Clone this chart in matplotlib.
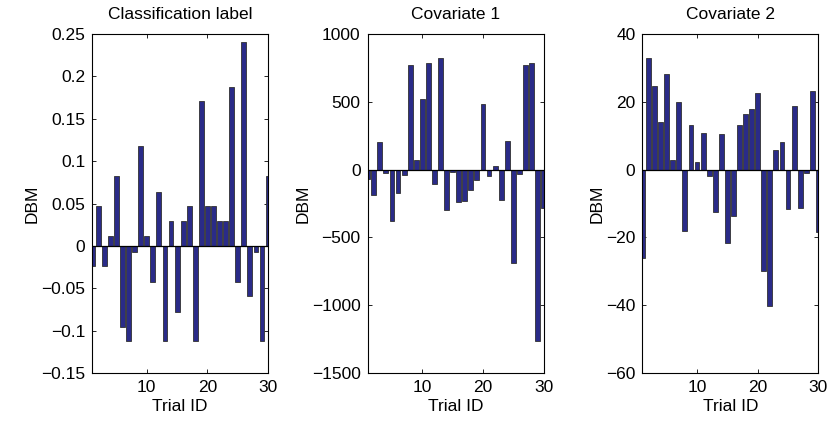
import numpy as np
import matplotlib
matplotlib.use('Agg')
import matplotlib.pyplot as plt

plt.rcParams['font.family'] = ['Liberation Sans', 'DejaVu Sans']

# Datos
trial_ids = np.arange(1, 31)

label_dbm = [-0.024, 0.047, -0.024, 0.012, 0.083, -0.095, -0.112, -0.007, 0.118, 0.012,
             -0.042, 0.064, -0.112, 0.029, -0.078, 0.029, 0.047, -0.112, 0.171, 0.047,
             0.047, 0.029, 0.029, 0.188, -0.042, 0.241, -0.059, -0.007, -0.112, 0.082]

cov1_dbm = [-66, -184, 205, -25, -375, -170, -42, 770, 70, 520,
            785, -105, 820, -295, -15, -237, -229, -148, -74, 487,
            -48, 28, -225, 210, -690, -33, 770, 785, -1265, -285]

cov2_dbm = [-26, 33, 24.6, 14.2, 28.3, 2.9, 20, -18.1, 13.3, 2.3,
            10.8, -1.9, -12.5, 10.4, -21.5, -13.7, 13.1, 16.5, 18, 22.6,
            -29.8, -40.3, 5.9, 8.2, -11.7, 18.9, -11.4, -0.9, 23.3, -18.4]

titles = ['Classification label', 'Covariate 1', 'Covariate 2']
series = [label_dbm, cov1_dbm, cov2_dbm]
ylims = [(-0.15, 0.25), (-1500, 1000), (-60, 40)]
yticks = [[-0.15, -0.1, -0.05, 0, 0.05, 0.1, 0.15, 0.2, 0.25],
          [-1500, -1000, -500, 0, 500, 1000],
          [-60, -40, -20, 0, 20, 40]]
yticklabels = [['\u22120.15', '\u22120.1', '\u22120.05', '0', '0.05', '0.1', '0.15', '0.2', '0.25'],
               ['\u22121500', '\u22121000', '\u2212500', '0', '500', '1000'],
               ['\u221260', '\u221240', '\u221220', '0', '20', '40']]

fig = plt.figure(figsize=(8.3, 4.25), dpi=100)
lefts = [0.111, 0.443, 0.774]

for i in range(3):
    ax = fig.add_axes([lefts[i], 0.122, 0.212, 0.798])
    ax.bar(trial_ids, series[i], width=0.8, color='#2a2b88',
           edgecolor='#303030', linewidth=0.6, zorder=2)
    ax.axhline(0, color='black', linewidth=0.9, zorder=3)
    ax.set_xlim(1, 30)
    ax.set_ylim(*ylims[i])
    ax.set_xticks([10, 20, 30])
    ax.set_yticks(yticks[i])
    ax.set_yticklabels(yticklabels[i])
    ax.tick_params(direction='in', top=True, right=True, length=3,
                   labelsize=12.5, width=0.6, pad=5)
    for s in ax.spines.values():
        s.set_linewidth(0.8)
    ax.set_title(titles[i], fontsize=12.5, pad=11)
    ax.set_xlabel('Trial ID', fontsize=12.5, labelpad=3)
    ax.set_ylabel('DBM', fontsize=12.5, labelpad=1)

fig.savefig('out.png', dpi=100)
